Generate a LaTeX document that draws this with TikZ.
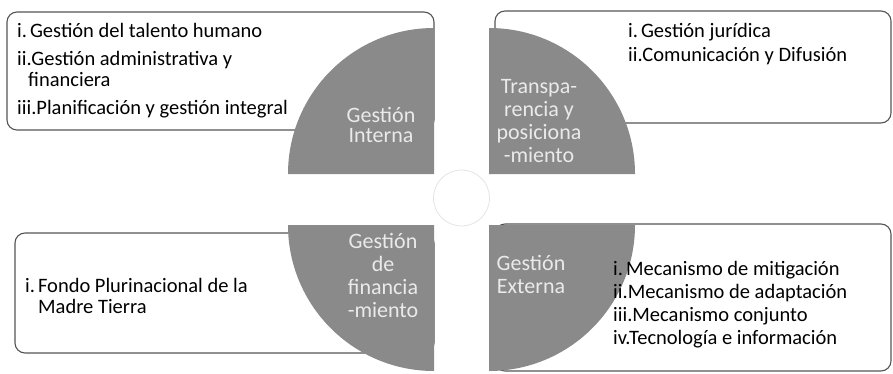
\documentclass[tikz,border=0pt]{standalone}
\usepackage{fontspec}
\setmainfont{Carlito}
\definecolor{grisC}{RGB}{138,138,138}
\definecolor{borde}{RGB}{85,85,85}
\definecolor{letra}{RGB}{234,234,234}
\definecolor{tenue}{RGB}{228,228,228}

\begin{document}
\begin{tikzpicture}[x=1pt,y=1pt,
  caja/.style={draw=borde,line width=1.1pt,fill=white,rounded corners=10pt},
  lista/.style={align=left,inner sep=0pt,font=\fontsize{20.5}{21}\selectfont},
  titulo/.style={align=center,inner sep=0pt,text=letra,font=\fontsize{22}{23}\selectfont}]
\useasboundingbox (0,0) rectangle (893,373);

% cajas
\draw[caja] (7,243) rectangle (434,361);
\draw[caja] (495,250) rectangle (891,362);
\draw[caja] (15,20) rectangle (434,140);
\draw[caja] (495,2) rectangle (891,149);

% circulo del centro
\draw[tenue,line width=0.8pt] (461.5,175) circle (28);

% cuartos
\fill[grisC] (434,199) -- (288,199) arc[start angle=180,end angle=90,radius=146] -- cycle;
\fill[grisC] (489,199) -- (489,345) arc[start angle=90,end angle=0,radius=146] -- cycle;
\fill[grisC] (434,148) -- (288,148) arc[start angle=180,end angle=270,radius=146] -- cycle;
\fill[grisC] (489,148) -- (635,148) arc[start angle=0,end angle=-90,radius=146] -- cycle;

\node[titulo,font=\fontsize{22}{20}\selectfont] (GI) at (381,248.5) {Gestión\\Interna};
\node[titulo] (TP) at (539,252) {Transpa-\\rencia y\\posiciona\\-miento};
\node[titulo] (GF) at (383,97.5) {Gestión\\de\\financia\\-miento};
\node[titulo] (GE) at (531,98.5) {Gestión\\Externa};

% listas
\node[lista,anchor=west] (LI) at (17,302.5) {i.\hspace{3pt}Gestión del talento humano\\[7pt]
  ii.Gestión administrativa y\\ \hspace*{11pt}financiera\\[7pt]
  iii.Planificación y gestión integral};
\node[lista,anchor=west,font=\fontsize{20.5}{24}\selectfont] (LT) at (628,329) {i.\hspace{3pt}Gestión jurídica\\
  ii.Comunicación y Difusión};
\node[lista,anchor=west] (LF) at (25,77) {i.\hspace{3pt}Fondo Plurinacional de la\\ \hspace*{13pt}Madre Tierra};
\node[lista,anchor=west,font=\fontsize{20.5}{23}\selectfont] (LE) at (613,68.5) {i.\hspace{3pt}Mecanismo de mitigación\\
  ii.Mecanismo de adaptación\\
  iii.Mecanismo conjunto\\
  iv.Tecnología e información};

\end{tikzpicture}
\end{document}
